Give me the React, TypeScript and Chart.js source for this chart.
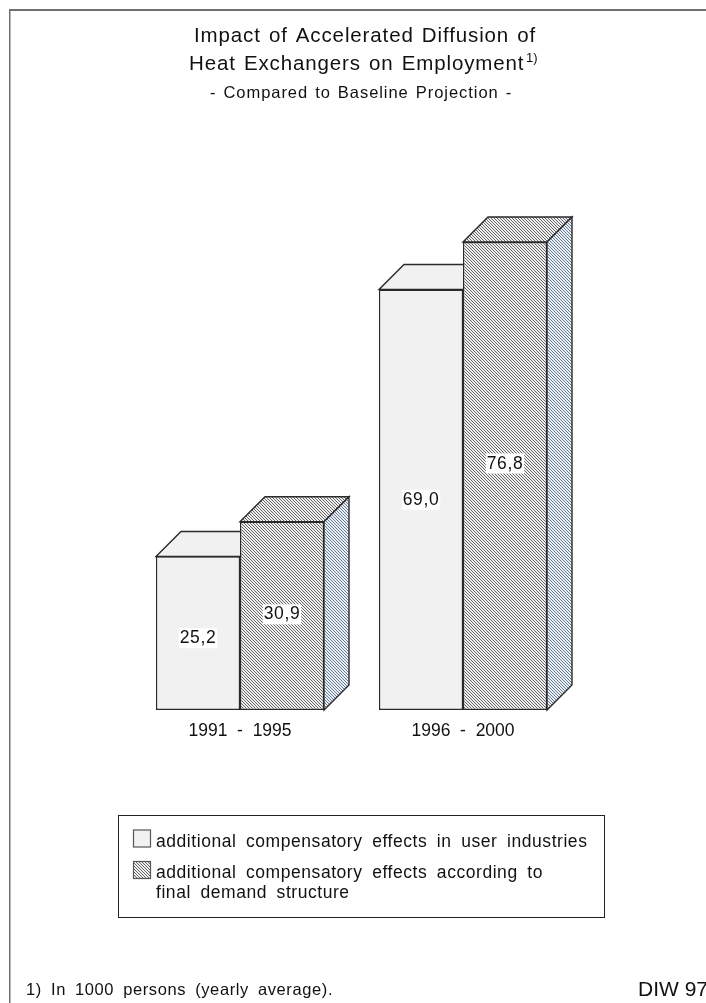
import React, { useEffect, useRef } from "react";
import { Chart, registerables } from "chart.js";

Chart.register(...registerables);

const periods = ["1991  -  1995", "1996  -  2000"];
const userIndustries = [25.2, 69.0];
const finalDemand = [30.9, 76.8];
const valueLabels = [["25,2", "69,0"], ["30,9", "76,8"]];
const labelShift = [[3.5, -1.5], [-3, -14]];
const titleLines = ["Impact of Accelerated Diffusion of", "Heat Exchangers on Employment"];
const titleSup = "1)";
const subtitle = "- Compared to Baseline Projection -";
const legendUser = ["additional compensatory effects in user industries"];
const legendDemand = ["additional compensatory effects according to", "final demand structure"];
const footnote = "1) In 1000 persons (yearly average).";
const source = "DIW 97";

const FONT = '"Liberation Sans", Arial, sans-serif';
const DEPTH = 25;

function hatch(dark: string, light: string) {
  const c = document.createElement("canvas");
  c.width = 3;
  c.height = 3;
  const g = c.getContext("2d")!;
  g.fillStyle = light;
  g.fillRect(0, 0, 3, 3);
  g.fillStyle = dark;
  for (let i = 0; i < 3; i++) g.fillRect(i, i, 1, 1);
  return g.createPattern(c, "repeat")!;
}

function poly(ctx: CanvasRenderingContext2D, pts: number[][], fill: any) {
  ctx.beginPath();
  pts.forEach((p, i) => (i ? ctx.lineTo(p[0], p[1]) : ctx.moveTo(p[0], p[1])));
  ctx.closePath();
  ctx.fillStyle = fill;
  ctx.fill();
  ctx.lineWidth = 1.4;
  ctx.strokeStyle = "#2a2a2a";
  ctx.stroke();
}

function text(
  ctx: CanvasRenderingContext2D,
  s: string,
  x: number,
  y: number,
  size: number,
  align: CanvasTextAlign = "left",
  word = "0px",
  letter = "0px",
) {
  ctx.font = `${size}px ${FONT}`;
  (ctx as any).wordSpacing = word;
  (ctx as any).letterSpacing = letter;
  ctx.textAlign = align;
  ctx.textBaseline = "alphabetic";
  ctx.fillStyle = "#111";
  ctx.fillText(s, x, y);
  (ctx as any).wordSpacing = "0px";
  (ctx as any).letterSpacing = "0px";
}

export default function App() {
  const ref = useRef<HTMLCanvasElement>(null);
  useEffect(() => {
    document.body.style.margin = "0";
    const front = hatch("#666666", "#f0f0f0");
    const side = hatch("#707c88", "#e6f0fb");
    const lightFill = "#f1f1f1";

    const bars3d = {
      id: "bars3d",
      beforeDatasetsDraw(chart: any) {
        const ctx = chart.ctx;
        ctx.save();
        chart.data.datasets.forEach((_: any, d: number) => {
          chart.getDatasetMeta(d).data.forEach((b: any) => {
            const l = b.x - b.width / 2;
            const r = b.x + b.width / 2;
            const t = b.y;
            const base = b.base;
            poly(ctx, [[l, t], [l + DEPTH, t - DEPTH], [r + DEPTH, t - DEPTH], [r, t]], d ? front : lightFill);
            if (d) poly(ctx, [[r, t], [r + DEPTH, t - DEPTH], [r + DEPTH, base - DEPTH], [r, base]], side);
          });
        });
        ctx.restore();
      },
      afterDatasetsDraw(chart: any) {
        const ctx = chart.ctx;
        ctx.save();
        chart.data.datasets.forEach((_: any, d: number) => {
          chart.getDatasetMeta(d).data.forEach((b: any, i: number) => {
            const label = valueLabels[d][i];
            const y = (b.y + b.base) / 2 + 6.5 + labelShift[d][i];
            ctx.font = `17.5px ${FONT}`;
            (ctx as any).letterSpacing = "0.6px";
            const w = ctx.measureText(label).width;
            (ctx as any).letterSpacing = "0px";
            ctx.fillStyle = "#fff";
            ctx.fillRect(b.x - w / 2 - 1, y - 15, w + 2, 20);
            text(ctx, label, b.x, y, 17.5, "center", "0px", "0.6px");
          });
        });
        ctx.restore();
      },
    };

    const page = {
      id: "page",
      afterDraw(chart: any) {
        const ctx = chart.ctx as CanvasRenderingContext2D;
        ctx.save();
        // frame
        ctx.strokeStyle = "#707070";
        ctx.lineWidth = 1.5;
        ctx.beginPath();
        ctx.moveTo(9.75, 1003);
        ctx.lineTo(9.75, 10);
        ctx.stroke();
        ctx.lineWidth = 2;
        ctx.beginPath();
        ctx.moveTo(9, 10);
        ctx.lineTo(706, 10);
        ctx.stroke();
        // title
        text(ctx, titleLines[0], 194, 41.5, 20.5, "left", "1.5px", "0.88px");
        text(ctx, titleLines[1], 189, 69.5, 20.5, "left", "1.5px", "0.88px");
        text(ctx, titleSup, 526, 62, 13);
        text(ctx, subtitle, 210, 98, 16.5, "left", "1.5px", "0.95px");
        // legend
        ctx.strokeStyle = "#222";
        ctx.lineWidth = 1;
        ctx.strokeRect(118.5, 815.5, 486, 102);
        ctx.strokeStyle = "#555";
        ctx.lineWidth = 1.2;
        ctx.fillStyle = lightFill;
        ctx.fillRect(133.5, 830, 17, 17);
        ctx.strokeRect(133.5, 830, 17, 17);
        ctx.fillStyle = front;
        ctx.fillRect(133.5, 861.5, 17, 17);
        ctx.strokeRect(133.5, 861.5, 17, 17);
        text(ctx, legendUser[0], 156, 847, 17.5, "left", "4.2px", "0.55px");
        text(ctx, legendDemand[0], 156, 878, 17.5, "left", "4.2px", "0.55px");
        text(ctx, legendDemand[1], 156, 898, 17.5, "left", "4.2px", "0.55px");
        // footer
        text(ctx, footnote, 26, 995, 16.5, "left", "3.9px", "0.6px");
        text(ctx, source, 638, 996, 21, "left");
        ctx.restore();
      },
    };

    const chart = new Chart(ref.current!, {
      type: "bar",
      data: {
        labels: periods,
        datasets: [
          {
            label: "additional compensatory effects in user industries",
            data: userIndustries,
            backgroundColor: lightFill,
            borderColor: "#2a2a2a",
            borderWidth: 1.4,
            borderSkipped: false,
          },
          {
            label: "additional compensatory effects according to final demand structure",
            data: finalDemand,
            backgroundColor: front,
            borderColor: "#2a2a2a",
            borderWidth: 1.4,
            borderSkipped: false,
          },
        ],
      },
      options: {
        animation: false,
        responsive: false,
        layout: { padding: { left: 128.5, right: 131.5, top: 222.5, bottom: 0 } },
        datasets: { bar: { barPercentage: 1, categoryPercentage: 168 / 223 } },
        plugins: { legend: { display: false }, title: { display: false }, tooltip: { enabled: false } },
        scales: {
          x: {
            grid: { display: false, drawTicks: false },
            border: { display: false },
            afterFit: (s: any) => {
              s.height = 293;
            },
            ticks: {
              padding: 11,
              maxRotation: 0,
              color: "#111",
              font: { family: "Liberation Sans", size: 17.5 },
            },
          },
          y: { display: false, min: 0, max: 80 },
        },
      } as any,
      plugins: [bars3d, page],
    });
    return () => chart.destroy();
  }, []);
  return (
    <canvas
      ref={ref}
      width={706}
      height={1003}
      style={{ position: "absolute", left: 0, top: 0, width: 706, height: 1003, display: "block" }}
    />
  );
}
